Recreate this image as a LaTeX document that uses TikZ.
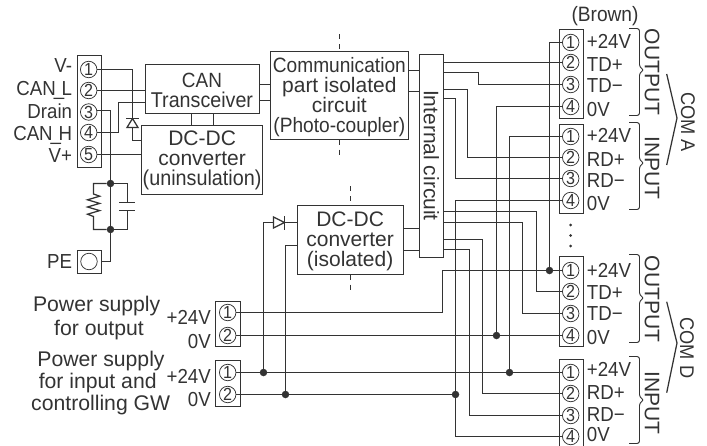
\documentclass[tikz,border=0pt]{standalone}
\usepackage{fontspec}
\setmainfont{Liberation Sans}
\newfontfamily\cond{Liberation Sans}[FakeStretch=0.92]
\definecolor{ink}{HTML}{333333}
\newcommand{\fsz}[2]{{\cond\fontsize{#1}{20}\selectfont #2}}
\tikzset{
  x=1pt,y=-1pt,
  wire/.style={draw=ink,line width=1.25pt},
  box/.style={draw=ink,line width=1.35pt,inner sep=0pt},
  boxtext/.style={inner sep=0pt,align=center,text=ink,font=\fontsize{21}{20}\selectfont},
  term/.style={draw=ink,line width=1.35pt,inner sep=0pt},
  pin/.style={draw=ink,fill=white,line width=.75pt,circle,inner sep=0pt,minimum size=16.5pt,text=ink,font=\cond\fontsize{17.5}{16}\selectfont},
  jdot/.style={fill=ink,circle,inner sep=0pt,minimum size=7.5pt},
  lab/.style={inner sep=0pt,text=ink,font=\cond\fontsize{20.3}{20}\selectfont},
  labr/.style={lab,anchor=base east},
  labl/.style={lab,anchor=base west},
  labc/.style={lab,anchor=base,font=\fontsize{21.2}{20}\selectfont},
  vlab/.style={lab,rotate=-90,anchor=center,font=\fontsize{21}{20}\selectfont},
  clab/.style={vlab,font=\cond\fontsize{19.8}{20}\selectfont},
  iso/.style={draw=ink,line width=1pt,dash pattern=on 5pt off 5pt},
  brace/.style={draw=ink,line width=.95pt,rounded corners=2.5pt},
}
\begin{document}
\begin{tikzpicture}
\useasboundingbox (0,0) rectangle (707,445);

% isolation marks
\coordinate (i1a) at (339.5,34); \coordinate (i1b) at (339.5,51.5);
\coordinate (i2a) at (339.5,139.5); \coordinate (i2b) at (339.5,156);
\coordinate (i3a) at (350.5,186); \coordinate (i3b) at (350.5,205.5);
\coordinate (i4a) at (350.5,274.5); \coordinate (i4b) at (350.5,293);
\draw[iso] (i1a) -- (i1b); \draw[iso] (i2a) -- (i2b);
\draw[iso] (i3a) -- (i3b); \draw[iso] (i4a) -- (i4b);

% blocks
\node[box,minimum width=114pt,minimum height=49pt] (can) at (202.5,89) {};
\node[boxtext] (cant) at (202,90.8) {\fsz{20.6}{CAN}\\\fsz{21.4}{Transceiver}};
\node[box,minimum width=121pt,minimum height=69pt] (dcu) at (202,160) {};
\node[boxtext] (dcut) at (202.1,160.5) {DC-DC\\converter\\\fsz{21.5}{(uninsulation)}};
\node[box,minimum width=138pt,minimum height=88pt] (comm) at (339.5,95.5) {};
\node[boxtext] (commt) at (339.35,97.5) {\fsz{20.8}{Communication}\\part isolated\\circuit\\\fsz{20.8}{(Photo-coupler)}};
\node[box,minimum width=24pt,minimum height=203pt] (ib) at (431.5,156) {};
\node[vlab] (ibt) at (431.3,155.5) {Internal circuit};
\node[box,minimum width=106pt,minimum height=69pt] (dci) at (350.5,240) {};
\node[boxtext] (dcit) at (350.15,241) {DC-DC\\converter\\(isolated)};

% terminal blocks
\node[term,minimum width=24pt,minimum height=112pt] (tl) at (89.5,111.5) {};
\node[term,minimum width=24pt,minimum height=23pt] (tpe) at (89.5,262) {};
\node[term,minimum width=25pt,minimum height=45pt] (tp1) at (228,324) {};
\node[term,minimum width=25pt,minimum height=46pt] (tp2) at (228,383.5) {};
\node[term,minimum width=24pt,minimum height=89pt] (tao) at (571.5,74) {};
\node[term,minimum width=24pt,minimum height=89pt] (tai) at (571.5,169) {};
\node[term,minimum width=24pt,minimum height=90pt] (tdo) at (571.5,301.5) {};
\node[term,minimum width=24pt,minimum height=91pt] (tdi) at (571.5,405) {};

% pins
\node[pin] (l1) at (88.7,69.5) {1};
\node[pin] (l2) at (88.7,90.5) {2};
\node[pin] (l3) at (88.7,112) {3};
\node[pin] (l4) at (88.7,132.5) {4};
\node[pin] (l5) at (88.7,154.5) {5};
\node[pin] (pe) at (89,261.5) {};
\node[pin] (p11) at (227.7,312.5) {1};
\node[pin] (p12) at (227.7,335.5) {2};
\node[pin] (p21) at (227.7,372.5) {1};
\node[pin] (p22) at (227.7,394.5) {2};
\node[pin] (ao1) at (570.7,42.5) {1};
\node[pin] (ao2) at (570.7,62.5) {2};
\node[pin] (ao3) at (570.7,84.5) {3};
\node[pin] (ao4) at (570.7,106.5) {4};
\node[pin] (ai1) at (570.7,136.5) {1};
\node[pin] (ai2) at (570.7,157.5) {2};
\node[pin] (ai3) at (570.7,178.5) {3};
\node[pin] (ai4) at (570.7,200.5) {4};
\node[pin] (do1) at (570.7,270.5) {1};
\node[pin] (do2) at (570.7,291.5) {2};
\node[pin] (do3) at (570.7,313.5) {3};
\node[pin] (do4) at (570.7,335.5) {4};
\node[pin] (di1) at (570.7,372.5) {1};
\node[pin] (di2) at (570.7,393.5) {2};
\node[pin] (di3) at (570.7,415.5) {3};
\node[pin] (di4) at (570.7,436.5) {4};

% junction dots
\node[jdot] (jr1) at (110.5,183.5) {};
\node[jdot] (jr2) at (110.5,229.5) {};
\node[jdot] (j1) at (263.5,372.5) {};
\node[jdot] (j2) at (285.5,394.5) {};
\node[jdot] (j3) at (549.5,270.5) {};
\node[jdot] (j4) at (496.5,335.5) {};
\node[jdot] (j5) at (509.5,372.5) {};
\node[jdot] (j6) at (455.5,394.5) {};

% left side wiring
\coordinate (rl) at (93.5,183.5);
\coordinate (rr) at (127.5,183.5);
\coordinate (bl) at (93.5,229.5);
\coordinate (br) at (127.5,229.5);
\coordinate (c1) at (127.5,202.5);
\coordinate (c2) at (127.5,210.5);
\coordinate (dtop) at (132.5,118.5);
\coordinate (dbot) at (132.5,127.5);
\coordinate (dout) at (132.5,140.5);
\draw[wire] (l1.east) -| (dtop);
\draw[wire] (dbot) -- (dout) -- (dout -| dcu.west);
\draw[wire] (l2.east) -- (l2 -| can.west);
\coordinate (h1) at (118.5,102.5);
\draw[wire] (l4.east) -| (h1) -- (h1 -| can.west);
\draw[wire] (l5.east) -- (l5 -| dcu.west);
\draw[wire] (l3.east |- 0,110.5) -| (jr1);
\draw[wire] (jr1) -- (jr2);
\draw[wire] (pe -| tpe.east) -| (jr2);
\draw[wire] (jr1) -- (rl) -- (93.5,194) -- (99.7,196.2) -- (87.5,199.8) -- (99.7,203.4) -- (87.5,207) -- (99.7,210.6) -- (87.5,214.2) -- (93.5,216.5) -- (bl) -- (jr2);
\draw[wire] (jr1) -- (rr) -- (c1);
\draw[wire] (jr2) -- (br) -- (c2);
\draw[wire] (119.3,202.5) -- (134.5,202.5);
\draw[wire] (119.3,210.5) -- (134.5,210.5);
% diode (uninsulation side)
\draw[wire,fill=white] (dtop) -- (127,127.5) -- (138,127.5) -- cycle;
\draw[wire] (126,118.5) -- (139,118.5);
% transceiver to converter
\draw[wire] (191.5,113.5) -- (191.5,125.5);
\draw[wire] (213.5,113.5) -- (213.5,125.5);
% transceiver to comm, comm to internal
\draw[wire] (can.east |- 0,84.5) -- (comm.west |- 0,84.5);
\draw[wire] (can.east |- 0,100.5) -- (comm.west |- 0,100.5);
\draw[wire] (comm.east |- 0,70.5) -- (ib.west |- 0,70.5);
\draw[wire] (comm.east |- 0,91.5) -- (ib.west |- 0,91.5);
\draw[wire] (dci.east |- 0,228.5) -- (ib.west |- 0,228.5);
\draw[wire] (dci.east |- 0,250.5) -- (ib.west |- 0,250.5);

% isolated converter input
\coordinate (d2a) at (273.5,222.5);
\coordinate (d2b) at (284.5,222.5);
\coordinate (k2) at (285.5,245.5);
\draw[wire] (j1) |- (d2a);
\draw[wire] (d2b) -- (d2b -| dci.west);
\draw[wire] (j2) -- (k2) -- (k2 -| dci.west);
\draw[wire,fill=white] (d2b) -- (273.5,217) -- (273.5,228) -- cycle;
\draw[wire] (284.5,216) -- (284.5,230);

% right side wiring
\draw[wire] (ao1.west) -| (j3);
\draw[wire] (ib.east |- ao2) -- (ao2.west);
\draw[wire] (ib.east |- 0,72.5) -| (478.5,84.5) -- (ao3.west);
\draw[wire] (ao4.west) -| (j4);
\draw[wire] (ai1.west) -| (j5);
\draw[wire] (ib.east |- 0,89.5) -| (467.5,157.5) -- (ai2.west);
\draw[wire] (ib.east |- 0,98.5) -| (455.5,178.5) -- (ai3.west);
\draw[wire] (ai4.west) -| (j6);
\draw[wire] (j6) |- (di4.west);
\draw[wire] (ib.east |- 0,211.5) -| (536.5,291.5) -- (do2.west);
\draw[wire] (ib.east |- 0,222.5) -| (522.5,313.5) -- (do3.west);
\draw[wire] (ib.east |- 0,239.5) -| (482.5,393.5) -- (di2.west);
\draw[wire] (ib.east |- 0,249.5) -| (469.5,415.5) -- (di3.west);
\draw[wire] (p11.east) -- (442.5,312.5) -- (442.5,270.5) -- (do1.west);
\draw[wire] (p12.east) -- (do4.west);
\draw[wire] (p21.east) -- (di1.west);
\draw[wire] (p22.east) -- (j6);

% left labels
\node[labr] (tvm) at (72.3,72.7) {V-};
\node[labr] (tcl) at (72.3,95) {CAN\kern-2pt\_\kern-2.5pt L};
\node[labr] (tdr) at (72.3,118.3) {Drain};
\node[labr] (tch) at (72.3,140) {CAN\kern-2pt\_\kern-2.5pt H};
\node[labr] (tvp) at (72.3,162.7) {V+};
\node[labr] (tpe2) at (72.3,268.7) {PE};
% power labels
\node[labc] (ps1) at (96.7,311.7) {Power supply};
\node[labc] (ps2) at (99,335.7) {for output};
\node[labc] (ps3) at (101,366.7) {Power supply};
\node[labc] (ps4) at (97.7,388.3) {for input and};
\node[labc] (ps5) at (100.7,410) {controlling GW};
\node[labr] (v1) at (211,324) {+24V};
\node[labr] (v2) at (211,348) {0V};
\node[labr] (v3) at (211,383.3) {+24V};
\node[labr] (v4) at (211,406.7) {0V};
% right labels
\node[labc] (brown) at (605,21.7) {\fsz{20.8}{(Brown)}};
\node[labl] (a1) at (586.7,48.3) {+24V};
\node[labl] (a2) at (586.7,71.7) {TD+};
\node[labl] (a3) at (586.7,92.7) {TD−};
\node[labl] (a4) at (586.7,116.7) {0V};
\node[labl] (a5) at (586.7,142.7) {+24V};
\node[labl] (a6) at (586.7,166.7) {RD+};
\node[labl] (a7) at (586.7,187.7) {RD−};
\node[labl] (a8) at (586.7,210.7) {0V};
\node[labl] (d1) at (586.7,277.3) {+24V};
\node[labl] (d2) at (586.7,299) {TD+};
\node[labl] (d3) at (586.7,320) {TD−};
\node[labl] (d4) at (586.7,344) {0V};
\node[labl] (d5) at (586.7,376.7) {+24V};
\node[labl] (d6) at (586.7,399.3) {RD+};
\node[labl] (d7) at (586.7,421) {RD−};
\node[labl] (d8) at (586.7,441.5) {0V};
\node[vlab] (vo1) at (652,72) {OUTPUT};
\node[vlab] (vi1) at (652,168) {INPUT};
\node[vlab] (vo2) at (652,299) {OUTPUT};
\node[vlab] (vi2) at (652,403) {INPUT};
\node[clab] (ca) at (688,122) {COM A};
\node[clab] (cd) at (687,348) {COM D};

% braces
\draw[brace] (629,28.5) -- (639.5,28.5) -- (639.5,67) -- (644,70) -- (639.5,73) -- (639.5,115.5) -- (629,115.5);
\draw[brace] (629,122.5) -- (639.5,122.5) -- (639.5,160) -- (644,163) -- (639.5,166) -- (639.5,209.5) -- (629,209.5);
\draw[brace] (629,254.5) -- (639.5,254.5) -- (639.5,295) -- (644,298) -- (639.5,301) -- (639.5,342.5) -- (629,342.5);
\draw[brace] (629,356.5) -- (639.5,356.5) -- (639.5,397) -- (644,400) -- (639.5,403) -- (639.5,443.5) -- (629,443.5);
% COM angle marks
\draw[wire] (666.7,74) -- (677,118) -- (666.7,165);
\draw[wire] (666.7,301.7) -- (677,343) -- (666.7,392.7);
% continuation dots
\fill[ink] (570.7,225) circle (1.5pt) (570.7,235.5) circle (1.5pt) (570.7,246) circle (1.5pt);
\end{tikzpicture}
\end{document}
